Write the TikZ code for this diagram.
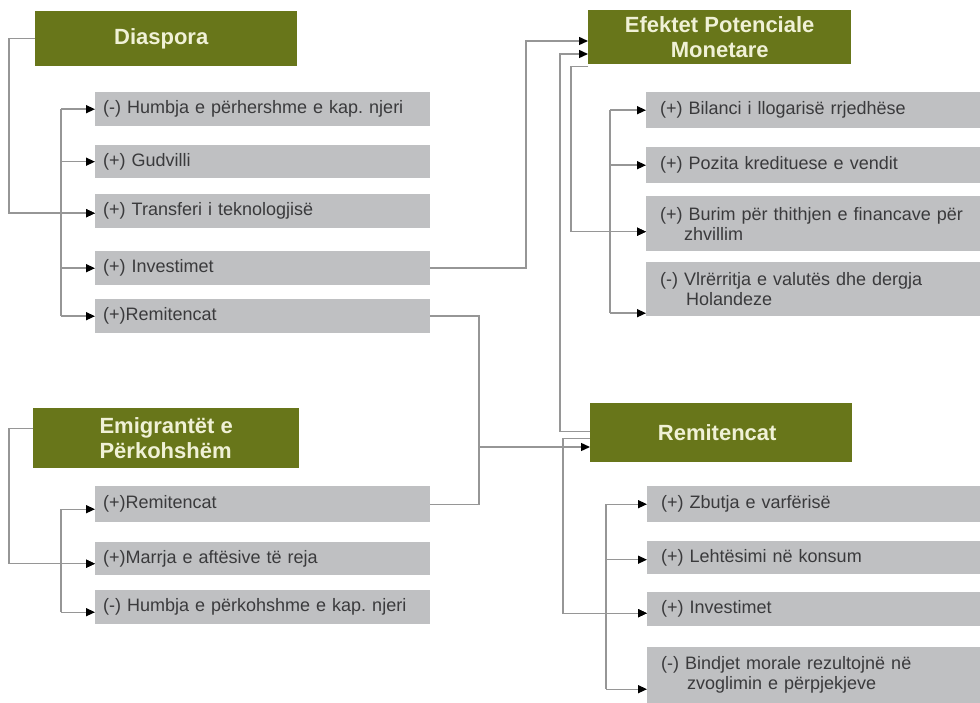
\documentclass[tikz,border=0pt]{standalone}
\usepackage{fontspec}
\setmainfont{Liberation Sans}
\usetikzlibrary{arrows.meta,calc}

\definecolor{titlegreen}{RGB}{104,118,26}
\definecolor{titletext}{RGB}{240,241,214}
\definecolor{boxgray}{RGB}{191,192,194}
\definecolor{itemtext}{RGB}{58,58,60}
\definecolor{linegray}{RGB}{150,150,150}

\def\ll{1pt}
\frenchspacing

\begin{document}
\begin{tikzpicture}[
  title/.style={fill=titlegreen, text=titletext, font=\fontsize{22}{25}\selectfont\bfseries, anchor=north west, inner sep=0pt},
  item/.style={fill=boxgray, text=itemtext, font=\fontsize{18}{20}\selectfont, anchor=north west, align=left, inner ysep=0pt},
  litem/.style={item, inner xsep=8*\ll, text width=319*\ll, minimum height=#1*\ll},
  ritem/.style={item, inner xsep=14*\ll, text width=306*\ll, minimum height=#1*\ll},
  link/.style={draw=linegray, line width=1.4*\ll},
  arr/.style={link, -{Triangle[black, length=9*\ll, width=8*\ll]}}]
\useasboundingbox (0,0) rectangle (980*\ll,-703*\ll);

% title boxes
\node[title, minimum width=262*\ll, minimum height=55*\ll] (dia) at ( 35*\ll, -11*\ll) {Diaspora\hspace*{10pt}};
\node[title, minimum width=263*\ll, minimum height=54*\ll, align=center] (eff) at (588*\ll, -10*\ll) {Efektet Potenciale\\Monetare};
\node[title, minimum width=266*\ll, minimum height=60*\ll, align=left] (emi) at ( 33*\ll,-408*\ll) {Emigrantët e\\Përkohshëm};
\node[title, minimum width=262*\ll, minimum height=59*\ll] (rem) at (590*\ll,-403*\ll) {Remitencat\hspace*{8pt}};

% Diaspora
\node[litem=34] (d1) at (95*\ll, -92*\ll) {(-) Humbja e përhershme e kap. njeri};
\node[litem=33] (d2) at (95*\ll,-145*\ll) {(+) Gudvilli};
\node[litem=34] (d3) at (95*\ll,-194*\ll) {(+) Transferi i teknologjisë};
\node[litem=34] (d4) at (95*\ll,-251*\ll) {(+) Investimet};
\node[litem=34] (d5) at (95*\ll,-299*\ll) {(+)Remitencat};

% Emigrantet e Perkohshem
\node[litem=36] (m1) at (95*\ll,-486*\ll) {(+)Remitencat};
\node[litem=33] (m2) at (95*\ll,-542*\ll) {(+)Marrja e aftësive të reja};
\node[litem=34] (m3) at (95*\ll,-590*\ll) {(-) Humbja e përkohshme e kap. njeri};

% Efektet Potenciale Monetare
\node[ritem=36] (e1) at (646*\ll, -92*\ll) {(+) Bilanci i llogarisë rrjedhëse};
\node[ritem=36] (e2) at (646*\ll,-147*\ll) {(+) Pozita kredituese e vendit};
\node[ritem=55] (e3) at (646*\ll,-196*\ll) {(+) Burim për thithjen e financave për\\\hspace*{24pt}zhvillim};
\node[ritem=54] (e4) at (646*\ll,-262*\ll) {(-) Vlrërritja e valutës dhe dergja\\\hspace*{26pt}Holandeze};

% Remitencat
\node[ritem=36] (r1) at (647*\ll,-486*\ll) {(+) Zbutja e varfërisë};
\node[ritem=33] (r2) at (647*\ll,-541*\ll) {(+) Lehtësimi në konsum};
\node[ritem=34] (r3) at (647*\ll,-592*\ll) {(+) Investimet};
\node[ritem=56] (r4) at (647*\ll,-647*\ll) {(-) Bindjet morale rezultojnë në\\\hspace*{26pt}zvoglimin e përpjekjeve};

% entry points of the arrows
\coordinate (dbus) at ( 61*\ll,0);
\coordinate (ebus) at (610*\ll,0);
\coordinate (rbus) at (606*\ll,0);
\foreach \n in {d1,d2,d4,d5,e1,e2,r1}
  \coordinate (\n in) at (\n.west);
\coordinate (d3in) at ($(d3.west)+(0,-2*\ll)$);
\foreach \n in {m1,m2,m3}
  \coordinate (\n in) at ($(\n.west)+(0,-5*\ll)$);
\coordinate (e3in) at ($(e3.west)+(0,-8*\ll)$);
\coordinate (e4in) at ($(e4.west)+(0,-24*\ll)$);
\coordinate (r2in) at ($(r2.west)+(0,-2*\ll)$);
\coordinate (r3in) at ($(r3.west)+(0,-4*\ll)$);
\coordinate (r4in) at ($(r4.west)+(0,-14*\ll)$);

% Diaspora links
\draw[arr] (dia.west) -- ++(-26*\ll,0) |- (d3in);
\draw[link] (dbus |- d1in) -- (dbus |- d5in);
\foreach \n in {d1,d2,d3,d4,d5}
  \draw[arr] (dbus |- \n in) -- (\n in);

% Emigrantet links
\draw[arr] ($(emi.west)+(0,10*\ll)$) -- ++(-24*\ll,0) |- (m2in);
\draw[link] (dbus |- m1in) -- (dbus |- m3in);
\foreach \n in {m1,m2,m3}
  \draw[arr] (dbus |- \n in) -- (\n in);

% into Efektet
\coordinate (ej1) at (526*\ll,-41*\ll);
\coordinate (ej2) at (560*\ll,-54*\ll);
\draw[arr] (d4.east) -| (ej1) -- (ej1 -| eff.west);
\draw[arr] ($(rem.west)+(0,1.5*\ll)$) -| (ej2) -- (ej2 -| eff.west);
\draw[arr] ($(eff.south west)+(0,-2*\ll)$) -- ++(-17*\ll,0) |- (e3in);
\draw[link] (ebus |- e1in) -- (ebus |- e4in);
\foreach \n in {e1,e2,e3,e4}
  \draw[arr] (ebus |- \n in) -- (\n in);

% into Remitencat
\coordinate (rj) at (479*\ll,-447*\ll);
\draw[link] (d5.east) -| (rj);
\draw[link] (m1.east) -| (rj);
\draw[arr] (rj) -- (rj -| rem.west);
\draw[arr] ($(rem.west)+(0,-5.5*\ll)$) -- ++(-27*\ll,0) |- (r3in);
\draw[link] (rbus |- r1in) -- (rbus |- r4in);
\foreach \n in {r1,r2,r3,r4}
  \draw[arr] (rbus |- \n in) -- (\n in);
\end{tikzpicture}
\end{document}
